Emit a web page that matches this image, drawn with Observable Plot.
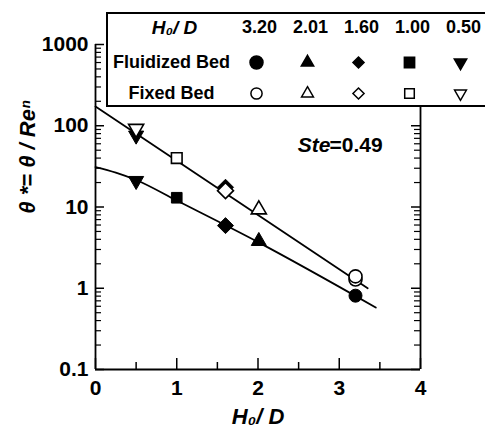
<!DOCTYPE html>
<html><head><meta charset="utf-8">
<script src="https://cdn.jsdelivr.net/npm/d3@7"></script>
<script src="https://cdn.jsdelivr.net/npm/@observablehq/plot@0.6"></script>
<style>
body{margin:0;background:#fff;}
#wrap{position:relative;width:485px;height:430px;overflow:hidden;}
#legend{position:absolute;left:106px;top:12px;border:2px solid #000;border-right:none;background:#fff;}
#legend svg, #wrap svg{display:block;}
</style></head><body><div id="wrap"><div id="chart"></div><div id="legend"></div></div>
<script>
// ---- data ----
const h0dLabels = ["3.20", "2.01", "1.60", "1.00", "0.50"];
const h0d = [3.20, 2.01, 1.60, 1.00, 0.50];
const fluidizedTheta = [0.81, 3.8, 5.9, 13, 21];
const fixedTheta = [1.40, 9.3, 15.9, 40, 92];
const fluidizedExtraH0d = [1.60, 0.50];
const fluidizedExtraTheta = [17.5, 76];
const fixedExtraH0d = [3.20];
const fixedExtraTheta = [1.28];
const fitFixedX = [0, 3.35];
const fitFixedY = [172, 1.0];
const fitFluidX = [0, 0.25, 0.5, 1.0, 2.0, 3.45];
const fitFluidY = [31, 26.5, 21.5, 12, 3.7, 0.58];
const xTicks = [0, 1, 2, 3, 4];
const xTickLabels = ["0", "1", "2", "3", "4"];
const xMinorTicks = [0.5, 1.5, 2.5, 3.5];
const yTicks = [0.1, 1, 10, 100, 1000];
const yTickLabels = ["0.1", "1", "10", "100", "1000"];
const rowLabels = ["Fluidized Bed", "Fixed Bed"];
const symbolNames = ["circle", "triangle", "diamond2", "square", "triangle"];
const symbolRotate = [0, 0, 0, 0, 180];

// ---- layout / style ----
const FONT = '"Liberation Sans", Arial, Helvetica, sans-serif';
const W = 485, H = 430, mL = 95, mR = 65, mT = 44, mB = 61;
const ux = 4 / (W - mL - mR);      // x units per pixel
const uy = 4 / (H - mT - mB);      // log decades per pixel
const yMinor = [];
for (const d of [0.1, 1, 10, 100]) for (let k = 2; k <= 9; k++) yMinor.push(+(d * k).toPrecision(3));

const mainR = {circle: 6.5, triangle: 5.6, diamond2: 7.2, square: 6};
const legR = {circle: 6.5, triangle: 4.6, diamond2: 5, square: 5.8};
const legROpen = {circle: 5.6, triangle: 4.4, diamond2: 5, square: 5.4};

function dots(xs, ys, filled, rmap) {
  return xs.map((x, k) => {
    const i = h0d.indexOf(x);
    const sym = symbolNames[i];
    return Plot.dot([{x, y: ys[k]}], {
      x: "x", y: "y", symbol: sym, rotate: symbolRotate[i], r: rmap[sym],
      fill: filled ? "black" : "white", stroke: "black", strokeWidth: filled ? 1 : 1.6
    });
  });
}

const fixedLine = fitFixedX.map((x, i) => ({x, y: fitFixedY[i]}));
const fluidLine = fitFluidX.map((x, i) => ({x, y: fitFluidY[i]}));

const chart = Plot.plot({
  width: W, height: H,
  marginLeft: mL, marginRight: mR, marginTop: mT, marginBottom: mB,
  style: {fontFamily: FONT, background: "white", color: "black", overflow: "visible"},
  x: {domain: [0, 4], axis: null},
  y: {type: "log", domain: [0.1, 1000], axis: null},
  marks: [
    // frame
    Plot.ruleX([0, 4], {y1: 0.1, y2: 1000, strokeWidth: 1.8}),
    Plot.ruleY([0.1], {x1: 0, x2: 4, strokeWidth: 1.8}),
    // inward ticks
    Plot.ruleY(yTicks, {x1: 0, x2: 9 * ux, strokeWidth: 1.5}),
    Plot.ruleY(yMinor, {x1: 0, x2: 6 * ux, strokeWidth: 1.2}),
    Plot.ruleY(yTicks, {x1: 4 - 9 * ux, x2: 4, strokeWidth: 1.5}),
    Plot.ruleY(yMinor, {x1: 4 - 6 * ux, x2: 4, strokeWidth: 1.2}),
    Plot.ruleX(xTicks, {y1: 0.1, y2: 0.1 * 10 ** (11 * uy), strokeWidth: 1.5}),
    Plot.ruleX(xMinorTicks, {y1: 0.1, y2: 0.1 * 10 ** (7 * uy), strokeWidth: 1.5}),
    // tick labels
    Plot.axisY(yTicks, {anchor: "left", tickSize: 0, tickPadding: 7, label: null,
      tickFormat: d => yTickLabels[yTicks.indexOf(d)], fontSize: 21, fontWeight: "bold"}),
    Plot.axisX(xTicks, {anchor: "bottom", tickSize: 0, tickPadding: 11, label: null,
      tickFormat: d => xTickLabels[xTicks.indexOf(d)], fontSize: 21, fontWeight: "bold"}),
    // axis titles
    Plot.text(["θ *= θ / Reⁿ"], {frameAnchor: "left", textAnchor: "middle", rotate: -90, dx: -68, dy: -50,
      fontSize: 22, fontStyle: "italic", fontWeight: "bold"}),
    Plot.text(["H₀/ D"], {frameAnchor: "bottom", dx: 0, dy: 54,
      fontSize: 22, fontStyle: "italic", fontWeight: "bold"}),
    // Ste annotation
    Plot.text(["Ste"], {frameAnchor: "top-right", textAnchor: "end", dx: -90, dy: 93,
      fontSize: 21, fontStyle: "italic", fontWeight: "bold"}),
    Plot.text(["=0.49"], {frameAnchor: "top-right", textAnchor: "start", dx: -91, dy: 93,
      fontSize: 21, fontWeight: "bold"}),
    // fitted lines
    Plot.line(fixedLine, {x: "x", y: "y", stroke: "black", strokeWidth: 1.8}),
    Plot.line(fluidLine, {x: "x", y: "y", stroke: "black", strokeWidth: 1.8, curve: "monotone-x"}),
    // data
    ...dots(fluidizedExtraH0d, fluidizedExtraTheta, true, mainR),
    ...dots(h0d, fluidizedTheta, true, mainR),
    ...dots(fixedExtraH0d, fixedExtraTheta, false, mainR),
    ...dots(h0d, fixedTheta, false, mainR)
  ]
});
document.getElementById("chart").appendChild(chart);

const legend = Plot.plot({
  width: 377, height: 91, margin: 0,
  style: {fontFamily: FONT, background: "white", color: "black", overflow: "visible"},
  x: {type: "point", domain: h0dLabels, range: [147, 352], padding: 0, axis: null},
  y: {type: "point", domain: rowLabels, range: [48, 79], padding: 0, axis: null},
  marks: [
    Plot.text(h0dLabels, {x: d => d, y: () => rowLabels[0], dx: 3, dy: -35, fontSize: 18, fontWeight: "bold"}),
    Plot.text(["H₀/ D"], {x: () => h0dLabels[0], y: () => rowLabels[0], dx: -82, dy: -35,
      fontSize: 19, fontStyle: "italic", fontWeight: "bold"}),
    Plot.text(rowLabels, {x: () => h0dLabels[0], y: d => d, dx: -85, fontSize: 18, fontWeight: "bold"}),
    ...h0dLabels.map((lab, i) => Plot.dot([lab], {x: d => d, y: () => rowLabels[0],
      symbol: symbolNames[i], rotate: symbolRotate[i], r: legR[symbolNames[i]], fill: "black", stroke: "black"})),
    ...h0dLabels.map((lab, i) => Plot.dot([lab], {x: d => d, y: () => rowLabels[1],
      symbol: symbolNames[i], rotate: symbolRotate[i], r: legROpen[symbolNames[i]], fill: "white", stroke: "black", strokeWidth: 1.5}))
  ]
});
document.getElementById("legend").appendChild(legend);
</script>
</body></html>
